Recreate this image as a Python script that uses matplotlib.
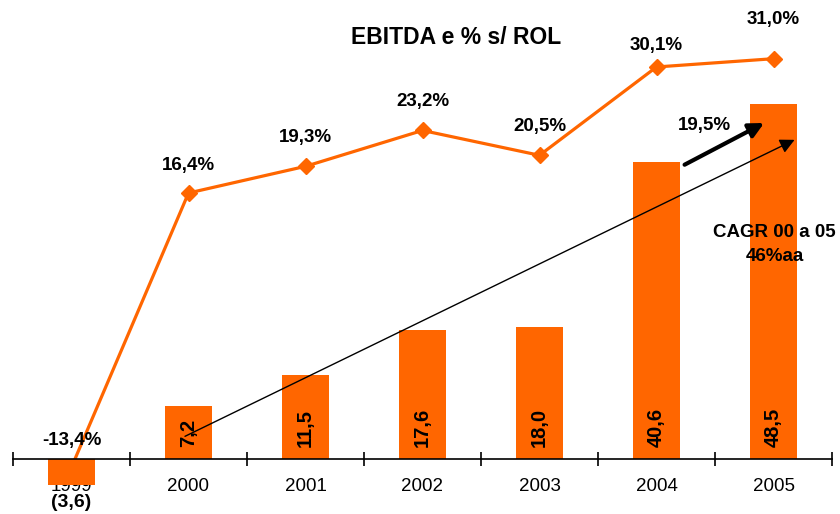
import matplotlib
matplotlib.use("Agg")
import matplotlib.pyplot as plt
from matplotlib.ticker import FixedLocator

plt.rcParams['font.family'] = ['Liberation Sans', 'DejaVu Sans']

years = ['1999', '2000', '2001', '2002', '2003', '2004', '2005']
ebitda = [-3.6, 7.2, 11.5, 17.6, 18.0, 40.6, 48.5]
ebitda_labels = ['(3,6)', '7,2', '11,5', '17,6', '18,0', '40,6', '48,5']
margin = [-13.4, 16.4, 19.3, 23.2, 20.5, 30.1, 31.0]
margin_labels = ['-13,4%', '16,4%', '19,3%', '23,2%', '20,5%', '30,1%', '31,0%']
label_dy = [27, 28, 29, 28.5, 29, 21, 39]  # px offset of % labels

orange = '#FF6600'

fig = plt.figure(figsize=(8.4, 5.14), dpi=100)
ax = fig.add_axes([13/840, 0, 819/840, 1])
ax2 = ax.twinx()
ax.set_zorder(ax2.get_zorder() + 1)
ax.patch.set_visible(False)

x = list(range(len(years)))
ax.bar(x, ebitda, width=0.41, color=orange, zorder=2)
ax.set_xlim(-0.5, 6.5)
ax.set_ylim(-7.51, 62.7)

for s in ['top', 'right', 'left']:
    ax.spines[s].set_visible(False)
    ax2.spines[s].set_visible(False)
ax2.spines['bottom'].set_visible(False)
ax.spines['bottom'].set_position(('data', 0))
ax.spines['bottom'].set_linewidth(1.2)
ax.set_yticks([])
ax2.set_yticks([])
ax.set_xticks(x)
ax.set_xticklabels(years, fontsize=13.5)
ax.tick_params(axis='x', which='major', length=0, pad=13.5)
ax.xaxis.set_minor_locator(FixedLocator([i - 0.5 for i in range(len(years) + 1)]))
ax.tick_params(axis='x', which='minor', direction='inout', length=9.5, width=1.2)

for i, (v, s) in enumerate(zip(ebitda, ebitda_labels)):
    if v >= 0:
        ax.text(i, 1.6, s, rotation=90, ha='center', va='bottom',
                fontsize=14.5, fontweight='bold', color='black', zorder=5)
    else:
        ax.text(i, -6.0, s, ha='center', va='center',
                fontsize=14, fontweight='bold', color='black', zorder=5)

ax2.set_ylim(-18.49, 37.38)
ax2.plot(x, margin, color=orange, lw=2.3, marker='D', markersize=8,
         markerfacecolor=orange, markeredgecolor=orange, zorder=1)
for i, (v, s, dy) in enumerate(zip(margin, margin_labels, label_dy)):
    ax2.annotate(s, (i, v), xytext=(0, dy * 0.72), textcoords='offset points',
                 ha='center', va='center', fontsize=13.5, fontweight='bold')

fig.text(456/840, 1 - 38/514, 'EBITDA e % s/ ROL', ha='center', va='center',
         fontsize=16.5, fontweight='bold')

# CAGR arrow (thin)
ax.annotate('', xy=(6.18, 43.6), xytext=(0.97, 3.1),
            arrowprops=dict(arrowstyle='-|>', color='black', lw=1.0,
                            mutation_scale=22, shrinkA=0, shrinkB=0), zorder=6)
# 2004->2005 arrow (thick)
ax.annotate('', xy=(5.92, 45.9), xytext=(5.24, 40.2),
            arrowprops=dict(arrowstyle='-|>', color='black', lw=3.0,
                            mutation_scale=22, shrinkA=0, shrinkB=0), zorder=6)
ax.text(5.41, 45.6, '19,5%', ha='center', va='center', fontsize=13.5,
        fontweight='bold', zorder=6)
ax.text(6.01, 31.0, 'CAGR 00 a 05', ha='center', va='center', fontsize=13.5,
        fontweight='bold', zorder=6)
ax.text(6.01, 27.7, '46%aa', ha='center', va='center', fontsize=13.5,
        fontweight='bold', zorder=6)

fig.savefig('out.png', dpi=100)
